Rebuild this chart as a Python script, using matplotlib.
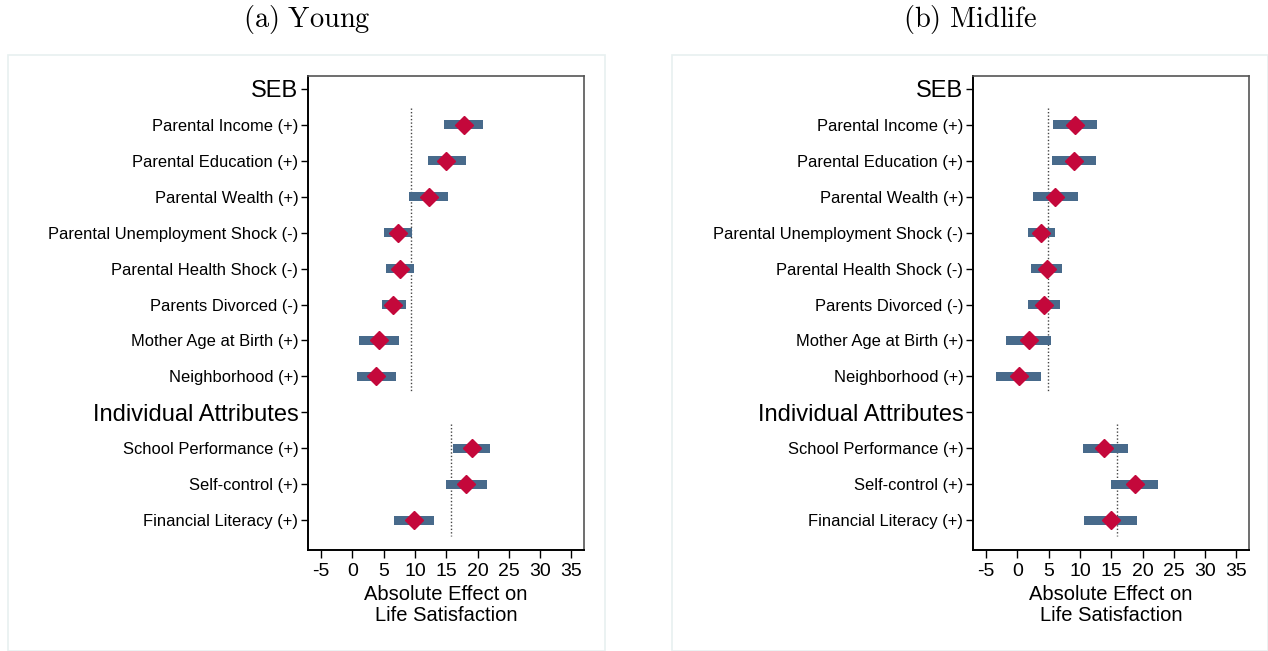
import numpy as np
import matplotlib
matplotlib.use("Agg")
import matplotlib.pyplot as plt
from matplotlib.patches import Rectangle

plt.rcParams['font.family'] = ['Liberation Sans', 'DejaVu Sans']
plt.rcParams['mathtext.fontset'] = 'cm'

# rows, top to bottom ("SEB" and "Individual Attributes" are group headers)
labels = ["SEB", "Parental Income (+)", "Parental Education (+)", "Parental Wealth (+)",
          "Parental Unemployment Shock (-)", "Parental Health Shock (-)", "Parents Divorced (-)",
          "Mother Age at Birth (+)", "Neighborhood (+)",
          "Individual Attributes", "School Performance (+)", "Self-control (+)",
          "Financial Literacy (+)"]
headers = [0, 9]
seb_rows = [1, 2, 3, 4, 5, 6, 7, 8]
ind_rows = [10, 11, 12]

# young
young_est = [17.8, 14.95, 12.2, 7.3, 7.6, 6.5, 4.3, 3.8, 19.1, 18.1, 9.8]
young_lo = [14.7, 12.0, 9.1, 5.0, 5.3, 4.65, 1.1, 0.66, 16.0, 14.9, 6.6]
young_hi = [20.8, 18.1, 15.3, 9.5, 9.9, 8.5, 7.4, 6.9, 22.0, 21.5, 13.1]
young_ref = [9.3, 15.7]

# midlife
mid_est = [9.2, 9.05, 6.05, 3.8, 4.7, 4.2, 1.8, 0.2, 13.9, 18.8, 14.9]
mid_lo = [5.7, 5.5, 2.5, 1.7, 2.2, 1.7, -1.85, -3.4, 10.5, 15.0, 10.6]
mid_hi = [12.7, 12.6, 9.7, 6.0, 7.1, 6.8, 5.4, 3.8, 17.7, 22.5, 19.1]
mid_ref = [4.9, 15.9]

xticks = np.arange(-5, 40, 5)

BAR = "#486a8b"
DIAM = "#c4083b"


def draw_panel(ax, est, lo, hi, ref):
    rows = seb_rows + ind_rows
    lo = np.array(lo)
    hi = np.array(hi)
    ax.barh(rows, hi - lo, left=lo, height=0.25, color=BAR, zorder=2)
    ax.plot(est, rows, linestyle="none", marker="D", ms=9.5, color=DIAM, zorder=3)
    ax.vlines(ref[0], seb_rows[0] - 0.47, seb_rows[-1] + 0.44, colors="#444444",
              linestyles=(0, (1, 1.5)), lw=1.0, zorder=1)
    ax.vlines(ref[1], ind_rows[0] - 0.69, ind_rows[-1] + 0.44, colors="#444444",
              linestyles=(0, (1, 1.5)), lw=1.0, zorder=1)

    ax.set_ylim(12.83, -0.36)
    ax.set_xlim(-7.1, 37.0)
    ax.set_yticks(range(len(labels)))
    ax.set_yticklabels(labels, fontsize=11.9)
    for i in headers:
        ax.get_yticklabels()[i].set_fontsize(17)
    ax.set_xticks(xticks)
    ax.set_xticklabels([str(t) for t in xticks], fontsize=14)
    ax.tick_params(axis="y", length=5, width=1, pad=2)
    ax.tick_params(axis="x", length=5.5, width=1, pad=3.5)
    ax.set_xlabel("Absolute Effect on\nLife Satisfaction", fontsize=14.5, labelpad=4,
                  linespacing=1.15)
    for s in ["left", "bottom"]:
        ax.spines[s].set_color("black")
        ax.spines[s].set_linewidth(1.4)
    for s in ["top", "right"]:
        ax.spines[s].set_color("#555555")
        ax.spines[s].set_linewidth(1.2)


W, H = 1268, 651
fig = plt.figure(figsize=(W / 100, H / 100), dpi=100)

# light frames around each panel
for x0, x1 in [(8, 605), (672, 1268)]:
    fig.patches.append(Rectangle((x0 / W, 0), (x1 - x0) / W, 596 / H, transform=fig.transFigure,
                                 facecolor="none", edgecolor="#e8f0f0", lw=1.2, zorder=0))

ax1 = fig.add_axes([308 / W, 1 - 550 / H, 276 / W, 474 / H])
ax2 = fig.add_axes([973 / W, 1 - 550 / H, 276 / W, 474 / H])
draw_panel(ax1, young_est, young_lo, young_hi, young_ref)
draw_panel(ax2, mid_est, mid_lo, mid_hi, mid_ref)

fig.text(306.5 / W, 1 - 19 / H, r"$\mathrm{(a)\ Young}$", ha="center", va="center", fontsize=20.5)
fig.text(970 / W, 1 - 19 / H, r"$\mathrm{(b)\ Midlife}$", ha="center", va="center", fontsize=20.5)

fig.savefig("out.png", dpi=100)
